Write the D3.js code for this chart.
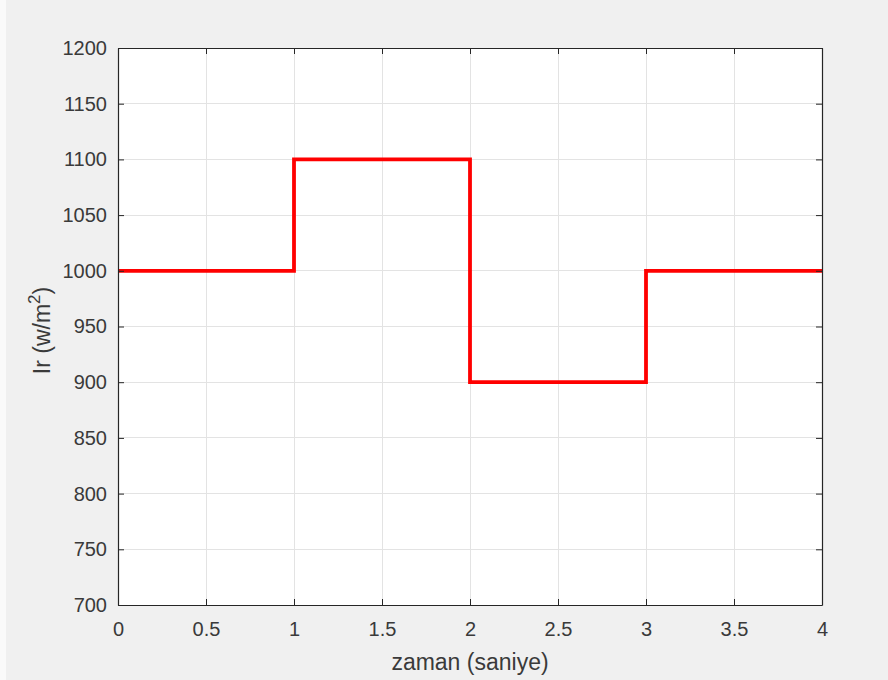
<!DOCTYPE html>
<html>
<head>
<meta charset="utf-8">
<script src="https://cdn.jsdelivr.net/npm/d3@7"></script>
<style>
  html, body { margin: 0; padding: 0; background: #f0f0f0; }
  svg { display: block; }
</style>
</head>
<body>
<script>
// Irradiance step profile over time
const timeSec = [0, 1, 1, 2, 2, 3, 3, 4];
const irradiance = [1000, 1000, 1100, 1100, 900, 900, 1000, 1000];
const xTicks = [0, 0.5, 1, 1.5, 2, 2.5, 3, 3.5, 4];
const yTicks = [700, 750, 800, 850, 900, 950, 1000, 1050, 1100, 1150, 1200];

const W = 888, H = 680;
const margin = { left: 118, right: 66, top: 48, bottom: 75 };
const iw = W - margin.left - margin.right;
const ih = H - margin.top - margin.bottom;

const svg = d3.select("body").append("svg").attr("width", W).attr("height", H);
svg.append("rect").attr("width", W).attr("height", H).attr("fill", "#f0f0f0");
svg.append("rect").attr("width", 6).attr("height", H).attr("fill", "#fafafa");

const g = svg.append("g").attr("transform", `translate(${margin.left},${margin.top})`);

const x = d3.scaleLinear().domain([0, 4]).range([0, iw]);
const y = d3.scaleLinear().domain([700, 1200]).range([ih, 0]);

g.append("rect").attr("width", iw).attr("height", ih).attr("fill", "#ffffff");

// grid
g.append("g").selectAll("line").data(xTicks).join("line")
  .attr("x1", d => x(d)).attr("x2", d => x(d)).attr("y1", 0).attr("y2", ih)
  .attr("stroke", "#e3e3e3").attr("stroke-width", 1).attr("shape-rendering", "crispEdges");
g.append("g").selectAll("line").data(yTicks).join("line")
  .attr("y1", d => y(d)).attr("y2", d => y(d)).attr("x1", 0).attr("x2", iw)
  .attr("stroke", "#e3e3e3").attr("stroke-width", 1).attr("shape-rendering", "crispEdges");

// data line
const pts = timeSec.map((t, i) => [t, irradiance[i]]);
g.append("path")
  .datum(pts)
  .attr("d", d3.line().x(d => x(d[0])).y(d => y(d[1])))
  .attr("fill", "none").attr("stroke", "#ff0000").attr("stroke-width", 3.8)
  .attr("stroke-linejoin", "miter");

const axisColor = "#262626";
const textColor = "#3a3a3a";
const fontFam = "'Liberation Sans', Arial, Helvetica, sans-serif";

function styleAxis(sel, showText) {
  sel.select(".domain").attr("stroke", axisColor).attr("stroke-width", 1.2);
  sel.selectAll(".tick line").attr("stroke", axisColor).attr("stroke-width", 1);
  sel.selectAll(".tick text").attr("fill", textColor)
    .style("font-family", fontFam).style("font-size", "20px");
  if (!showText) sel.selectAll(".tick text").remove();
}

const ax = g.append("g").attr("transform", `translate(0,${ih})`)
  .call(d3.axisBottom(x).tickValues(xTicks).tickFormat(d3.format("")).tickSizeInner(-6).tickSizeOuter(0).tickPadding(17));
styleAxis(ax, true);

const axTop = g.append("g")
  .call(d3.axisTop(x).tickValues(xTicks).tickSizeInner(-6).tickSizeOuter(0));
styleAxis(axTop, false);

const ay = g.append("g")
  .call(d3.axisLeft(y).tickValues(yTicks).tickFormat(d3.format("")).tickSizeInner(-6).tickSizeOuter(0).tickPadding(11));
styleAxis(ay, true);

const ayR = g.append("g").attr("transform", `translate(${iw},0)`)
  .call(d3.axisRight(y).tickValues(yTicks).tickSizeInner(-6).tickSizeOuter(0));
styleAxis(ayR, false);

// axis labels
svg.append("text")
  .attr("x", margin.left + iw / 2).attr("y", 670)
  .attr("text-anchor", "middle").attr("fill", textColor)
  .style("font-family", fontFam).style("font-size", "23px")
  .text("zaman (saniye)");

const yl = svg.append("text")
  .attr("transform", `translate(50,${margin.top + ih / 2 + 4}) rotate(-90)`)
  .attr("text-anchor", "middle").attr("fill", textColor)
  .style("font-family", fontFam).style("font-size", "23px");
yl.append("tspan").text("Ir (w/m");
yl.append("tspan").attr("dy", -10).style("font-size", "17px").text("2");
yl.append("tspan").attr("dy", 10).text(")");
</script>
</body>
</html>
